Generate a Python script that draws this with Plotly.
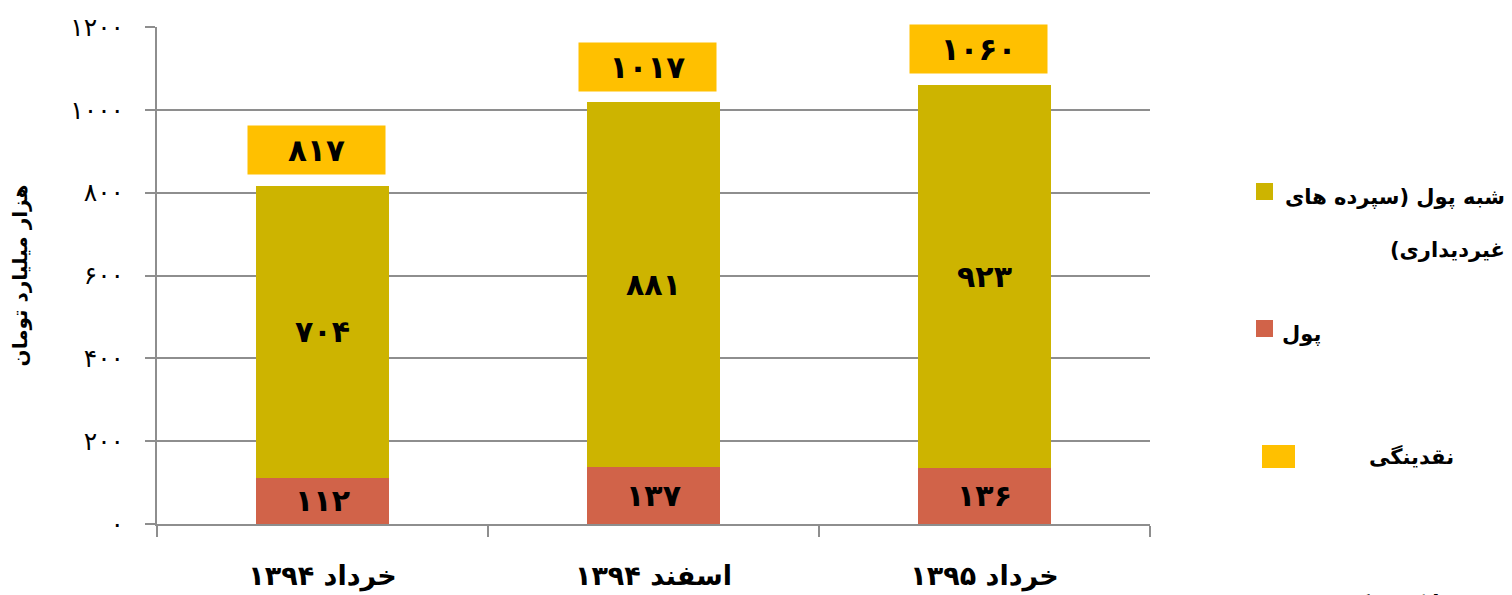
import plotly.graph_objects as go

categories = ["خرداد ۱۳۹۴", "اسفند ۱۳۹۴", "خرداد ۱۳۹۵"]
pool = [112, 137, 136]
pool_labels = ["۱۱۲", "۱۳۷", "۱۳۶"]
shebh_pool = [704, 881, 923]
shebh_labels = ["۷۰۴", "۸۸۱", "۹۲۳"]
liquidity = [817, 1017, 1060]
liquidity_labels = ["۸۱۷", "۱۰۱۷", "۱۰۶۰"]
y_ticks = [0, 200, 400, 600, 800, 1000, 1200]
y_tick_labels = ["۰", "۲۰۰", "۴۰۰", "۶۰۰", "۸۰۰", "۱۰۰۰", "۱۲۰۰"]

RLM = "\u200F"
name_pool = "پول"
name_shebh_1 = "شبه پول (سپرده های"
name_shebh_2 = RLM + "غیردیداری)" + RLM
name_shebh = name_shebh_1 + " " + name_shebh_2
name_liq = "نقدینگی"
source_note = "منبع: بانک مرکزی"

C_OLIVE = "#CDB400"
C_RED = "#D16349"
C_ORANGE = "#FFC000"
GRID = "#8E8E8E"
FONT = "DejaVu Sans"

# page body has an 8px margin; figure is placed at (8, 8)
OFF = 8
W, H = 1512 - OFF * 2, 595 - OFF
L, R, T, B = 157 - OFF, 1150 - OFF, 27 - OFF, 524 - OFF


def px(x):
    return (x - OFF - L) / (R - L)


def py(y):
    return (B - (y - OFF)) / (B - T)


fig = go.Figure()
fig.add_trace(go.Bar(
    x=categories, y=pool, name=name_pool, marker_color=C_RED,
    text=pool_labels, textposition="inside", insidetextanchor="middle",
    textfont=dict(family=FONT, size=30, color="black", weight="bold"),
    showlegend=False, marker_line_width=0,
))
fig.add_trace(go.Bar(
    x=categories, y=shebh_pool, name=name_shebh, marker_color=C_OLIVE,
    text=shebh_labels, textposition="inside", insidetextanchor="middle",
    textfont=dict(family=FONT, size=30, color="black", weight="bold"),
    showlegend=False, marker_line_width=0,
))

annotations = []
for c, v, lab in zip(categories, liquidity, liquidity_labels):
    annotations.append(dict(
        x=c, y=v, xref="x", yref="y", text=lab, showarrow=False,
        yanchor="bottom", yshift=11, xshift=-6,
        bgcolor=C_ORANGE, width=135, height=46,
        font=dict(family=FONT, size=31, color="black", weight="bold"),
    ))

# legend (manual)
shapes = [
    dict(type="rect", xref="paper", yref="paper", x0=px(1256), x1=px(1273),
         y0=py(200), y1=py(183), fillcolor=C_OLIVE, line_width=0),
    dict(type="rect", xref="paper", yref="paper", x0=px(1256), x1=px(1273),
         y0=py(337), y1=py(320), fillcolor=C_RED, line_width=0),
    dict(type="rect", xref="paper", yref="paper", x0=px(1262), x1=px(1295),
         y0=py(468), y1=py(445), fillcolor=C_ORANGE, line_width=0),
]
leg_font = dict(family=FONT, size=21, color="black", weight="bold")
annotations += [
    dict(x=px(1507), y=py(197), xref="paper", yref="paper", text=name_shebh_1,
         showarrow=False, xanchor="right", yanchor="middle", align="right",
         font=leg_font),
    dict(x=px(1507), y=py(250), xref="paper", yref="paper", text=name_shebh_2,
         showarrow=False, xanchor="right", yanchor="middle", align="right",
         font=leg_font),
    dict(x=px(1323), y=py(334), xref="paper", yref="paper", text=name_pool,
         showarrow=False, xanchor="right", yanchor="middle", align="right",
         font=leg_font),
    dict(x=px(1456), y=py(456), xref="paper", yref="paper", text=name_liq,
         showarrow=False, xanchor="right", yanchor="middle", align="right",
         font=leg_font),
    dict(x=px(1510), y=py(589), xref="paper", yref="paper", text=source_note,
         showarrow=False, xanchor="right", yanchor="top", align="right",
         font=leg_font),
]

fig.update_layout(
    width=W, height=H,
    barmode="stack", bargap=0.6,
    plot_bgcolor="white", paper_bgcolor="white",
    margin=dict(l=L, r=W - R, t=T, b=H - B, pad=0, autoexpand=False),
    shapes=shapes, annotations=annotations,
    font=dict(family=FONT, color="black"),
)
fig.update_xaxes(
    type="category", showline=True, linecolor=GRID, linewidth=2,
    ticks="outside", tickson="boundaries", ticklen=11, tickwidth=2, tickcolor=GRID,
    tickfont=dict(family=FONT, size=27, color="black", weight="bold"),
    ticklabelstandoff=27, showgrid=False, automargin=False,
)
fig.update_yaxes(
    range=[0, 1200], tickvals=y_ticks, ticktext=y_tick_labels,
    showgrid=True, gridcolor=GRID, gridwidth=2, zeroline=False,
    showline=True, linecolor=GRID, linewidth=2,
    ticks="outside", ticklen=10, tickwidth=2, tickcolor=GRID,
    tickfont=dict(family=FONT, size=25, color="black"),
    ticklabelstandoff=16, automargin=False,
    title=dict(text="هزار میلیارد تومان", standoff=42,
               font=dict(family=FONT, size=20, color="black", weight="bold")),
)

fig.write_html("out.html")
